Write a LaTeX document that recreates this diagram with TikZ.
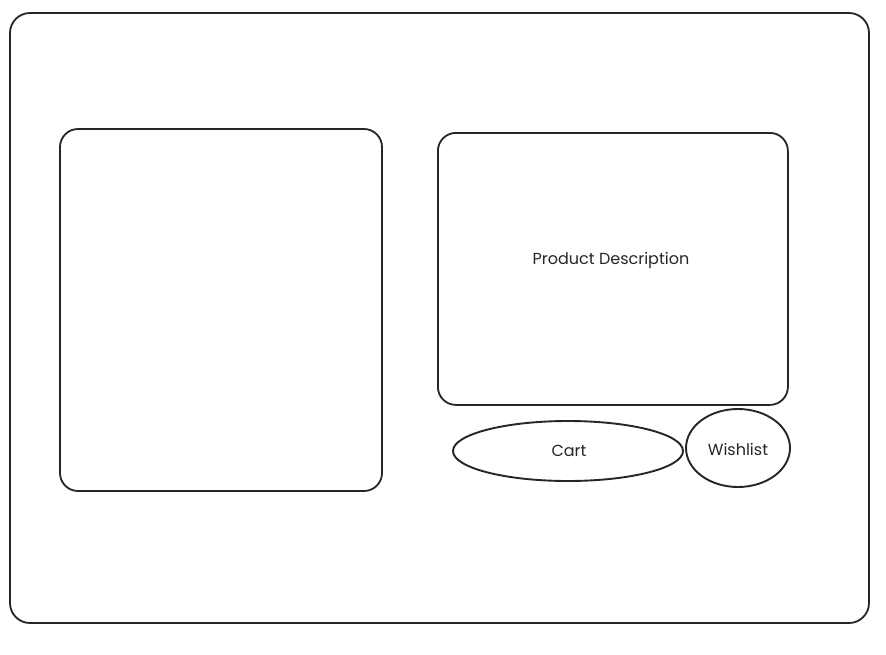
\documentclass[tikz,border=0pt]{standalone}
\usepackage{fontspec}
\setmainfont{Poppins}
\usetikzlibrary{shapes.geometric}
\begin{document}
\begin{tikzpicture}[x=1pt,y=-1pt,
  box/.style={draw=black!85,line width=1.8pt,rounded corners=18pt},
  oval/.style={draw=black!85,line width=1.9pt,ellipse,inner sep=0pt},
  lbl/.style={font=\fontsize{16}{18}\selectfont,text=black!85}]
\useasboundingbox[fill=white] (0,0) rectangle (886,654);
\draw[box,rounded corners=20pt] (10,13) rectangle (869,623);
\draw[box] (60,129) rectangle (382,491);
\node[box,minimum width=350pt,minimum height=272pt,inner sep=0pt,anchor=north west] (desc) at (437,132) {};
\node[lbl] (desctext) at (611,260) {Product Description};
\node[oval,minimum width=230pt,minimum height=60pt] (cart) at (568,451) {};
\node[lbl] (carttext) at (569,451) {Cart};
\node[oval,minimum width=104pt,minimum height=78pt] (wish) at (738,448) {};
\node[lbl] (wishtext) at (738,449) {Wishlist};
\end{tikzpicture}
\end{document}
